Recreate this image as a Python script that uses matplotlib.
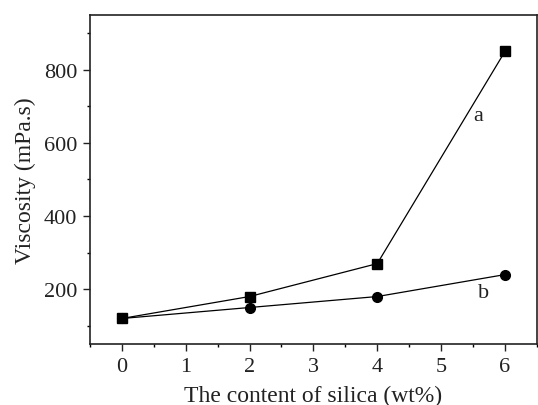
import matplotlib
matplotlib.use('Agg')
import matplotlib.pyplot as plt
from matplotlib.ticker import MultipleLocator

silica = [0, 2, 4, 6]
visc_a = [120, 180, 270, 850]
visc_b = [120, 150, 180, 240]

plt.rcParams['font.family'] = ['Liberation Serif', 'DejaVu Serif']

fig = plt.figure(figsize=(5.38, 4.06), dpi=100)
ax = fig.add_axes([0.167, 0.150, 0.831, 0.811])

ax.plot(silica, visc_a, 'k-', marker='s', markersize=6.5, linewidth=0.9)
ax.plot(silica, visc_b, 'k-', marker='o', markersize=7, linewidth=0.9)

ax.text(5.58, 674, 'a', fontsize=16, ha='center', va='center', color='#222222')
ax.text(5.67, 192, 'b', fontsize=16, ha='center', va='center', color='#222222')

ax.set_xlim(-0.5, 6.5)
ax.set_ylim(50, 950)
ax.xaxis.set_major_locator(MultipleLocator(1))
ax.xaxis.set_minor_locator(MultipleLocator(0.5))
ax.yaxis.set_major_locator(MultipleLocator(200))
ax.yaxis.set_minor_locator(MultipleLocator(100))
ax.tick_params(which='major', direction='out', length=5, width=1, labelsize=16, colors='#222222', pad=4)
ax.tick_params(which='minor', direction='out', length=2.5, width=1)
for s in ax.spines.values():
    s.set_linewidth(1.2)
    s.set_color('#222222')

ax.set_xlabel('The content of silica (wt%)', fontsize=17, color='#222222', labelpad=7)
ax.set_ylabel('Viscosity (mPa.s)', fontsize=17, color='#222222', labelpad=6)

fig.savefig('out.png', dpi=100)
